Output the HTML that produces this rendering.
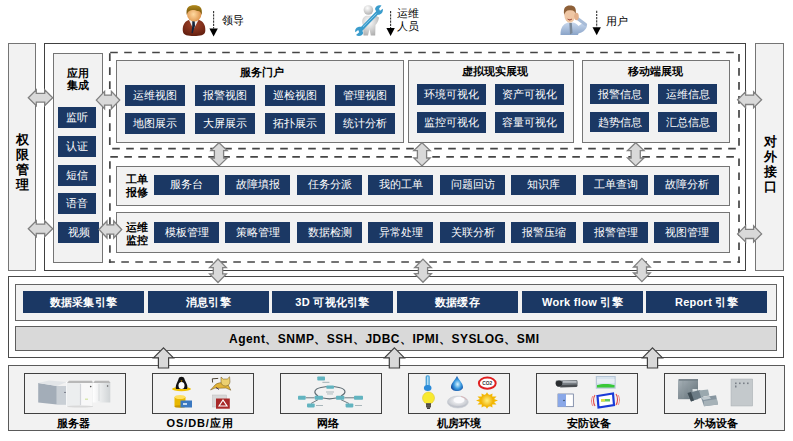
<!DOCTYPE html>
<html><head><meta charset="utf-8"><style>
html,body{margin:0;padding:0;background:#fff;width:793px;height:441px;overflow:hidden;position:relative;font-family:"Liberation Sans",sans-serif;}
.b{position:absolute;box-sizing:border-box;}
.btn{position:absolute;background:#1b3864;color:#fff;text-align:center;white-space:nowrap;}
.t{position:absolute;white-space:nowrap;line-height:1.15;}
svg{position:absolute;left:0;top:0;}
</style></head><body>
<div class="b" style="left:8px;top:43px;width:28px;height:228px;background:#f2f2f2;border:1px solid #757575;"></div>
<div class="b" style="left:44px;top:43px;width:702px;height:228px;background:#fff;border:1px solid #404040;"></div>
<div class="b" style="left:755px;top:43px;width:29px;height:228px;background:#f2f2f2;border:1px solid #757575;"></div>
<div class="t" style="left:16px;top:131.5px;font-size:13px;font-weight:bold;color:#000;line-height:15.1px;width:14px;">权<br>限<br>管<br>理</div>
<div class="t" style="left:764px;top:133.5px;font-size:13px;font-weight:bold;color:#000;line-height:15.1px;width:14px;">对<br>外<br>接<br>口</div>
<div class="b" style="left:53px;top:53px;width:50px;height:210px;background:#f2f2f2;border:1px solid #757575;"></div>
<div class="t" style="left:53px;top:66.5px;font-size:10.5px;font-weight:bold;color:#000;width:50px;text-align:center;line-height:12.8px;">应用<br>集成</div>
<div class="btn" style="left:58px;top:107px;width:38px;height:21px;line-height:21px;font-size:11px;font-weight:normal;">监听</div>
<div class="btn" style="left:58px;top:136px;width:38px;height:21px;line-height:21px;font-size:11px;font-weight:normal;">认证</div>
<div class="btn" style="left:58px;top:165px;width:38px;height:21px;line-height:21px;font-size:11px;font-weight:normal;">短信</div>
<div class="btn" style="left:58px;top:193px;width:38px;height:20.5px;line-height:20.5px;font-size:11px;font-weight:normal;">语音</div>
<div class="btn" style="left:58px;top:222px;width:41px;height:20.5px;line-height:20.5px;font-size:11px;font-weight:normal;">视频</div>
<div class="b" style="left:116px;top:60px;width:288px;height:83px;background:#f2f2f2;border:1px solid #757575;"></div>
<div class="t" style="left:162.2px;top:65.5px;font-size:10.5px;font-weight:bold;color:#000;width:200px;text-align:center;">服务门户</div>
<div class="btn" style="left:125px;top:85px;width:60px;height:21px;line-height:21px;font-size:11px;font-weight:normal;">运维视图</div>
<div class="btn" style="left:195px;top:85px;width:60px;height:21px;line-height:21px;font-size:11px;font-weight:normal;">报警视图</div>
<div class="btn" style="left:265px;top:85px;width:60px;height:21px;line-height:21px;font-size:11px;font-weight:normal;">巡检视图</div>
<div class="btn" style="left:335px;top:85px;width:60px;height:21px;line-height:21px;font-size:11px;font-weight:normal;">管理视图</div>
<div class="btn" style="left:125px;top:113px;width:60px;height:21px;line-height:21px;font-size:11px;font-weight:normal;">地图展示</div>
<div class="btn" style="left:195px;top:113px;width:60px;height:21px;line-height:21px;font-size:11px;font-weight:normal;">大屏展示</div>
<div class="btn" style="left:265px;top:113px;width:60px;height:21px;line-height:21px;font-size:11px;font-weight:normal;">拓扑展示</div>
<div class="btn" style="left:335px;top:113px;width:60px;height:21px;line-height:21px;font-size:11px;font-weight:normal;">统计分析</div>
<div class="b" style="left:408px;top:60px;width:166px;height:83px;background:#f2f2f2;border:1px solid #757575;"></div>
<div class="t" style="left:394.9px;top:65.3px;font-size:10.5px;font-weight:bold;color:#000;width:200px;text-align:center;">虚拟现实展现</div>
<div class="btn" style="left:417px;top:84px;width:69px;height:21px;line-height:21px;font-size:11px;font-weight:normal;">环境可视化</div>
<div class="btn" style="left:495px;top:84px;width:69px;height:21px;line-height:21px;font-size:11px;font-weight:normal;">资产可视化</div>
<div class="btn" style="left:417px;top:112px;width:69px;height:21px;line-height:21px;font-size:11px;font-weight:normal;">监控可视化</div>
<div class="btn" style="left:495px;top:112px;width:69px;height:21px;line-height:21px;font-size:11px;font-weight:normal;">容量可视化</div>
<div class="b" style="left:582px;top:60px;width:148px;height:83px;background:#f2f2f2;border:1px solid #757575;"></div>
<div class="t" style="left:555px;top:65.3px;font-size:10.5px;font-weight:bold;color:#000;width:200px;text-align:center;">移动端展现</div>
<div class="btn" style="left:590px;top:84px;width:59px;height:20px;line-height:20px;font-size:11px;font-weight:normal;">报警信息</div>
<div class="btn" style="left:658px;top:84px;width:59px;height:20px;line-height:20px;font-size:11px;font-weight:normal;">运维信息</div>
<div class="btn" style="left:590px;top:112px;width:59px;height:20px;line-height:20px;font-size:11px;font-weight:normal;">趋势信息</div>
<div class="btn" style="left:658px;top:112px;width:59px;height:20px;line-height:20px;font-size:11px;font-weight:normal;">汇总信息</div>
<div class="b" style="left:116px;top:166px;width:614px;height:40px;background:#f2f2f2;border:1px solid #757575;"></div>
<div class="t" style="left:125.5px;top:173px;font-size:11px;font-weight:bold;color:#000;line-height:13px;">工单<br>报修</div>
<div class="btn" style="left:154px;top:175px;width:65px;height:20px;line-height:20px;font-size:11px;font-weight:normal;line-height:18px;">服务台</div>
<div class="btn" style="left:225px;top:175px;width:65px;height:20px;line-height:20px;font-size:11px;font-weight:normal;line-height:18px;">故障填报</div>
<div class="btn" style="left:297px;top:175px;width:65px;height:20px;line-height:20px;font-size:11px;font-weight:normal;line-height:18px;">任务分派</div>
<div class="btn" style="left:368px;top:175px;width:65px;height:20px;line-height:20px;font-size:11px;font-weight:normal;line-height:18px;">我的工单</div>
<div class="btn" style="left:440px;top:175px;width:65px;height:20px;line-height:20px;font-size:11px;font-weight:normal;line-height:18px;">问题回访</div>
<div class="btn" style="left:511px;top:175px;width:65px;height:20px;line-height:20px;font-size:11px;font-weight:normal;line-height:18px;">知识库</div>
<div class="btn" style="left:583px;top:175px;width:65px;height:20px;line-height:20px;font-size:11px;font-weight:normal;line-height:18px;">工单查询</div>
<div class="btn" style="left:654px;top:175px;width:65px;height:20px;line-height:20px;font-size:11px;font-weight:normal;line-height:18px;">故障分析</div>
<div class="b" style="left:116px;top:212px;width:614px;height:41px;background:#f2f2f2;border:1px solid #757575;"></div>
<div class="t" style="left:126px;top:221px;font-size:11px;font-weight:bold;color:#000;line-height:13px;">运维<br>监控</div>
<div class="btn" style="left:154px;top:222px;width:65px;height:20.5px;line-height:20.5px;font-size:11px;font-weight:normal;line-height:20px;">模板管理</div>
<div class="btn" style="left:225px;top:222px;width:65px;height:20.5px;line-height:20.5px;font-size:11px;font-weight:normal;line-height:20px;">策略管理</div>
<div class="btn" style="left:297px;top:222px;width:65px;height:20.5px;line-height:20.5px;font-size:11px;font-weight:normal;line-height:20px;">数据检测</div>
<div class="btn" style="left:368px;top:222px;width:65px;height:20.5px;line-height:20.5px;font-size:11px;font-weight:normal;line-height:20px;">异常处理</div>
<div class="btn" style="left:440px;top:222px;width:65px;height:20.5px;line-height:20.5px;font-size:11px;font-weight:normal;line-height:20px;">关联分析</div>
<div class="btn" style="left:511px;top:222px;width:65px;height:20.5px;line-height:20.5px;font-size:11px;font-weight:normal;line-height:20px;">报警压缩</div>
<div class="btn" style="left:583px;top:222px;width:65px;height:20.5px;line-height:20.5px;font-size:11px;font-weight:normal;line-height:20px;">报警管理</div>
<div class="btn" style="left:654px;top:222px;width:65px;height:20.5px;line-height:20.5px;font-size:11px;font-weight:normal;line-height:20px;">视图管理</div>
<div class="b" style="left:8px;top:276px;width:776px;height:82px;background:#fff;border:1px solid #4a4a4a;"></div>
<div class="b" style="left:15px;top:284px;width:762px;height:37px;background:#f2f2f2;border:1px solid #646464;"></div>
<div class="btn" style="left:23px;top:291px;width:121px;height:22px;line-height:22px;font-size:11px;font-weight:bold;letter-spacing:0.3px;">数据采集引擎</div>
<div class="btn" style="left:148px;top:291px;width:121px;height:22px;line-height:22px;font-size:11px;font-weight:bold;letter-spacing:0.3px;">消息引擎</div>
<div class="btn" style="left:272px;top:291px;width:121px;height:22px;line-height:22px;font-size:11px;font-weight:bold;letter-spacing:0.3px;">3D 可视化引擎</div>
<div class="btn" style="left:397px;top:291px;width:121px;height:22px;line-height:22px;font-size:11px;font-weight:bold;letter-spacing:0.3px;">数据缓存</div>
<div class="btn" style="left:522px;top:291px;width:121px;height:22px;line-height:22px;font-size:11px;font-weight:bold;letter-spacing:0.3px;">Work flow 引擎</div>
<div class="btn" style="left:646px;top:291px;width:121px;height:22px;line-height:22px;font-size:11px;font-weight:bold;letter-spacing:0.3px;">Report 引擎</div>
<div class="b" style="left:15px;top:326px;width:762px;height:25px;background:#d9d9d9;border:1px solid #5e5e5e;"></div>
<div class="t" style="left:229px;top:333.3px;font-size:12px;font-weight:bold;color:#000;letter-spacing:0.47px;">Agent、SNMP、SSH、JDBC、IPMI、SYSLOG、SMI</div>
<div class="b" style="left:8px;top:365px;width:777px;height:66px;background:#f2f2f2;border:1px solid #5a5a5a;"></div>
<div class="b" style="left:24px;top:373px;width:102px;height:41px;background:#f2f2f2;border:1px solid #404040;"></div>
<div class="t" style="left:56.5px;top:417px;font-size:11px;font-weight:bold;color:#000;">服务器</div>
<div class="b" style="left:152px;top:373px;width:102px;height:41px;background:#f2f2f2;border:1px solid #404040;"></div>
<div class="t" style="left:166.5px;top:417px;font-size:11px;font-weight:bold;color:#000;letter-spacing:0.9px;">OS/DB/应用</div>
<div class="b" style="left:280px;top:373px;width:102px;height:41px;background:#f2f2f2;border:1px solid #404040;"></div>
<div class="t" style="left:317px;top:417px;font-size:11px;font-weight:bold;color:#000;">网络</div>
<div class="b" style="left:408px;top:373px;width:102px;height:41px;background:#f2f2f2;border:1px solid #404040;"></div>
<div class="t" style="left:436.5px;top:417px;font-size:11px;font-weight:bold;color:#000;">机房环境</div>
<div class="b" style="left:536px;top:373px;width:102px;height:41px;background:#f2f2f2;border:1px solid #404040;"></div>
<div class="t" style="left:567px;top:417px;font-size:11px;font-weight:bold;color:#000;">安防设备</div>
<div class="b" style="left:664px;top:373px;width:102px;height:41px;background:#f2f2f2;border:1px solid #404040;"></div>
<div class="t" style="left:694px;top:417px;font-size:11px;font-weight:bold;color:#000;">外场设备</div>
<div class="t" style="left:222px;top:14px;font-size:11px;font-weight:normal;color:#000;">领导</div>
<div class="t" style="left:397px;top:6.5px;font-size:11px;font-weight:normal;color:#000;line-height:13.3px;">运维<br>人员</div>
<div class="t" style="left:606px;top:15px;font-size:11px;font-weight:normal;color:#000;">用户</div>
<svg width="793" height="441" viewBox="0 0 793 441">
<line x1="108.8" y1="52.5" x2="740" y2="52.5" stroke="#454545" stroke-width="1.7" stroke-dasharray="7.6,6.4" stroke-dashoffset="12.60"/>
<line x1="109.8" y1="51.5" x2="109.8" y2="149.7" stroke="#454545" stroke-width="1.7" stroke-dasharray="7.6,6.4" stroke-dashoffset="12.20"/>
<line x1="108.8" y1="148.7" x2="740" y2="148.7" stroke="#454545" stroke-width="1.7" stroke-dasharray="7.6,6.4" stroke-dashoffset="10.60"/>
<line x1="739" y1="51.5" x2="739" y2="149.7" stroke="#454545" stroke-width="1.7" stroke-dasharray="7.6,6.4" stroke-dashoffset="11.40"/>
<line x1="108.9" y1="156.8" x2="740" y2="156.8" stroke="#454545" stroke-width="1.7" stroke-dasharray="7.6,6.4" stroke-dashoffset="12.60"/>
<line x1="109.9" y1="155.8" x2="109.9" y2="263" stroke="#454545" stroke-width="1.7" stroke-dasharray="7.6,6.4" stroke-dashoffset="8.60"/>
<line x1="108.9" y1="262" x2="740" y2="262" stroke="#454545" stroke-width="1.7" stroke-dasharray="7.6,6.4" stroke-dashoffset="1.60"/>
<line x1="739" y1="155.8" x2="739" y2="263" stroke="#454545" stroke-width="1.7" stroke-dasharray="7.6,6.4" stroke-dashoffset="11.40"/>
<polygon points="28.3,97.8 36.3,89.8 36.3,93.4 44.7,93.4 44.7,89.8 52.7,97.8 44.7,105.8 44.7,102.2 36.3,102.2 36.3,105.8" fill="#d9d9d9" stroke="#808080" stroke-width="1.3"/>
<polygon points="96.3,100.1 104.6,91.3 104.6,95.1 111.4,95.1 111.4,91.3 119.7,100.1 111.4,108.8 111.4,105.1 104.6,105.1 104.6,108.8" fill="#d9d9d9" stroke="#808080" stroke-width="1.3"/>
<polygon points="28.3,228.8 36.3,220.8 36.3,224.1 44.7,224.1 44.7,220.8 52.7,228.8 44.7,236.8 44.7,233.5 36.3,233.5 36.3,236.8" fill="#d9d9d9" stroke="#808080" stroke-width="1.3"/>
<polygon points="99.0,229.5 107.0,221.0 107.0,224.8 113.7,224.8 113.7,221.0 121.7,229.5 113.7,238.0 113.7,234.2 107.0,234.2 107.0,238.0" fill="#d9d9d9" stroke="#808080" stroke-width="1.3"/>
<polygon points="737.6,99.8 745.6,91.8 745.6,95.1 753.6,95.1 753.6,91.8 761.6,99.8 753.6,107.8 753.6,104.5 745.6,104.5 745.6,107.8" fill="#d9d9d9" stroke="#808080" stroke-width="1.3"/>
<polygon points="737.6,233.9 745.6,225.9 745.6,229.3 753.6,229.3 753.6,225.9 761.6,233.9 753.6,241.9 753.6,238.5 745.6,238.5 745.6,241.9" fill="#d9d9d9" stroke="#808080" stroke-width="1.3"/>
<polygon points="219.0,142.7 227.2,150.6 223.6,150.6 223.6,158.0 227.2,158.0 219.0,165.9 210.8,158.0 214.4,158.0 214.4,150.6 210.8,150.6" fill="#d9d9d9" stroke="#808080" stroke-width="1.3"/>
<polygon points="422.0,142.7 430.2,150.6 426.6,150.6 426.6,158.0 430.2,158.0 422.0,165.9 413.8,158.0 417.4,158.0 417.4,150.6 413.8,150.6" fill="#d9d9d9" stroke="#808080" stroke-width="1.3"/>
<polygon points="635.7,142.7 644.0,150.6 640.3,150.6 640.3,158.0 644.0,158.0 635.7,165.9 627.5,158.0 631.1,158.0 631.1,150.6 627.5,150.6" fill="#d9d9d9" stroke="#808080" stroke-width="1.3"/>
<polygon points="218.0,259.0 226.4,267.6 222.7,267.6 222.7,273.9 226.4,273.9 218.0,282.5 209.6,273.9 213.3,273.9 213.3,267.6 209.6,267.6" fill="#d9d9d9" stroke="#808080" stroke-width="1.3"/>
<polygon points="423.0,259.1 431.4,267.7 427.6,267.7 427.6,273.7 431.4,273.7 423.0,282.3 414.6,273.7 418.4,273.7 418.4,267.7 414.6,267.7" fill="#d9d9d9" stroke="#808080" stroke-width="1.3"/>
<polygon points="641.9,258.4 650.3,267.0 646.5,267.0 646.5,273.0 650.3,273.0 641.9,281.6 633.5,273.0 637.2,273.0 637.2,267.0 633.5,267.0" fill="#d9d9d9" stroke="#808080" stroke-width="1.3"/>
<polygon points="163.5,347.8 173.5,357.8 168.6,357.8 168.6,368.0 158.4,368.0 158.4,357.8 153.5,357.8" fill="#d9d9d9" stroke="#404040" stroke-width="1.2"/>
<polygon points="394.4,347.8 404.4,357.8 399.5,357.8 399.5,368.0 389.3,368.0 389.3,357.8 384.4,357.8" fill="#d9d9d9" stroke="#404040" stroke-width="1.2"/>
<polygon points="652.5,347.8 662.5,357.8 657.6,357.8 657.6,368.0 647.4,368.0 647.4,357.8 642.5,357.8" fill="#d9d9d9" stroke="#404040" stroke-width="1.2"/>
<line x1="213.6" y1="11" x2="213.6" y2="28.6" stroke="#333" stroke-width="1.1" stroke-dasharray="2.2,1"/>
<polygon points="209.4,28.6 217.79999999999998,28.6 213.6,36.6" fill="#000"/>
<line x1="390.6" y1="11" x2="390.6" y2="28" stroke="#333" stroke-width="1.1" stroke-dasharray="2.2,1"/>
<polygon points="386.40000000000003,28 394.8,28 390.6,36" fill="#000"/>
<line x1="596.7" y1="10.7" x2="596.7" y2="27.299999999999997" stroke="#333" stroke-width="1.1" stroke-dasharray="2.2,1"/>
<polygon points="592.5,27.299999999999997 600.9000000000001,27.299999999999997 596.7,35.3" fill="#000"/>

<defs>
 <radialGradient id="gHead" cx="0.45" cy="0.55" r="0.6"><stop offset="0" stop-color="#ffd9a0"/><stop offset="1" stop-color="#d98a40"/></radialGradient>
 <linearGradient id="gHair" x1="0" y1="0" x2="0" y2="1"><stop offset="0" stop-color="#b08a1c"/><stop offset="1" stop-color="#6a4a08"/></linearGradient>
 <radialGradient id="gSuit" cx="0.5" cy="0.3" r="0.8"><stop offset="0" stop-color="#a6452a"/><stop offset="1" stop-color="#5a1a0c"/></radialGradient>
 <radialGradient id="gWhite" cx="0.4" cy="0.3" r="0.8"><stop offset="0" stop-color="#ffffff"/><stop offset="1" stop-color="#a8a8a8"/></radialGradient>
 <linearGradient id="gBlueShirt" x1="0" y1="0" x2="0" y2="1"><stop offset="0" stop-color="#c8d8ee"/><stop offset="1" stop-color="#8aa4c8"/></linearGradient>
 <linearGradient id="gSrv" x1="0" y1="0" x2="1" y2="0"><stop offset="0" stop-color="#8e99a6"/><stop offset="1" stop-color="#c4ccd4"/></linearGradient>
 <linearGradient id="gTower" x1="0" y1="0" x2="1" y2="0"><stop offset="0" stop-color="#ffffff"/><stop offset="1" stop-color="#d0d4d6"/></linearGradient>
 <radialGradient id="gDrop" cx="0.55" cy="0.55" r="0.6"><stop offset="0" stop-color="#d8f4ff"/><stop offset="0.5" stop-color="#3a9ae0"/><stop offset="1" stop-color="#0a3a90"/></radialGradient>
 <radialGradient id="gSun" cx="0.5" cy="0.5" r="0.5"><stop offset="0" stop-color="#fff080"/><stop offset="1" stop-color="#f0b000"/></radialGradient>
 <radialGradient id="gDisc" cx="0.5" cy="0.4" r="0.6"><stop offset="0" stop-color="#ffffff"/><stop offset="1" stop-color="#b8bcc4"/></radialGradient>
 <linearGradient id="gMetal" x1="0" y1="0" x2="1" y2="1"><stop offset="0" stop-color="#a9b3b9"/><stop offset="1" stop-color="#5f6d75"/></linearGradient>
</defs>
<!-- leader -->
<g>
 <path d="M182.8,31 C182.3,24.5 185,21 190,19.5 L198,19.5 C203,21 205.8,24.5 205.3,31 C205,35.5 200,36 194,36 C188,36 183.2,35.5 182.8,31 Z" fill="url(#gSuit)"/>
 <polygon points="189,20 193.5,29.5 198.5,20" fill="#f0f0f0"/>
 <polygon points="192.3,21 194.7,21 195,26 192.5,33.5 191.5,33 192.2,26" fill="#15233a"/>
 <ellipse cx="194.2" cy="13.5" rx="7.3" ry="8" fill="url(#gHead)"/>
 <path d="M186.8,15 C185.5,7.5 189,5.3 194.2,5.3 C199.5,5.3 203,7.5 201.6,15 C201,12 199.5,10.5 197,11 C195,9.5 191,9.8 189.5,11 C188,11.5 187.2,13 186.8,15 Z" fill="url(#gHair)"/>
</g>
<!-- ops person with wrench -->
<g>
 <path d="M363.5,35.5 L363,25 C361.5,22 362,17.5 366,15.8 L371,15.8 C373.5,16.5 375,18 376.5,16 L379,17.5 C378.5,21 377,23.5 375.5,25 L375.2,35.5 L370.8,35.5 L369.5,29 L368,35.5 Z" fill="url(#gWhite)"/>
 <circle cx="368.4" cy="10" r="4.8" fill="url(#gWhite)"/>
 <path d="M360.8,29.8 L377.5,12.5" stroke="#3a9ccc" stroke-width="3.6" stroke-linecap="round"/>
 <path d="M375,9 C375.5,5.5 378.8,4.5 381.5,5.5 L379,8.8 L380,10.8 L382.8,8.8 C383.5,12.3 381,15 377.8,14.8 Z" fill="#3a9ccc"/>
 <path d="M363.2,33 C362.5,36 358.5,37 356,35 L359.2,32.2 L358.2,30 L355.3,32.2 C354.5,28.5 357.5,26.3 361,26.8 Z" fill="#3a9ccc"/>
 <path d="M363,26.8 L376.5,13.5" stroke="#9fd4ee" stroke-width="0.8"/>
</g>
<!-- user -->
<g>
 <path d="M560.5,35 C560.5,27.5 563,24 568,22.5 L573,22.5 C576,23 577.5,24.5 578.5,26 L582,23.5 C584,22.5 587,23 587,26 C586,30 582.5,32.5 578.5,33.5 L578,35 Z" fill="url(#gBlueShirt)"/>
 <path d="M577.5,18.5 L585.5,24.5" stroke="#a8bcd8" stroke-width="3.2" stroke-linecap="round"/>
 <polygon points="569.3,23 571.8,23 572.5,33 570,34.5" fill="#7a8898"/>
 <ellipse cx="569.8" cy="15.2" rx="5.4" ry="7.6" fill="#efc6a4"/>
 <path d="M564.2,15 C563,8 565.5,5.6 570,5.6 C574.5,5.6 576.8,8 575.6,14.5 C575,11.5 573.5,10 570,10.3 C567,10 565,11.5 564.2,15 Z" fill="#8e6038"/>
 <ellipse cx="576.5" cy="16.5" rx="2.3" ry="3.8" fill="#e2b08c"/>
 <path d="M567.6,19 Q569.8,21.3 572,19" stroke="#9a4a3a" stroke-width="0.9" fill="#c87868"/>
</g>
<!-- server -->
<g>
 <polygon points="38.2,383 56.8,386 56.8,404.5 38.2,402.5" fill="#a3adb8"/>
 <polygon points="38.2,383 49,380.5 67,382 56.8,386" fill="#e2e5e8"/>
 <rect x="56.8" y="386" width="9.5" height="18.8" fill="#c9cfd5"/>
 <circle cx="65" cy="392.4" r="0.7" fill="#556"/>
 <rect x="66" y="382" width="27" height="24.5" fill="url(#gTower)"/>
 <polygon points="67,383 69,380.8 92,380.8 93,383" fill="#b8b8b8"/>
 <rect x="66.5" y="383" width="13" height="23" fill="#eceeef"/>
 <rect x="80.6" y="383" width="12.2" height="23" fill="#f8f8f8"/>
 <line x1="80.6" y1="384" x2="80.6" y2="405" stroke="#c8cccf" stroke-width="0.8"/>
 <circle cx="90.7" cy="386.6" r="0.8" fill="#555"/>
 <rect x="85" y="398.5" width="3" height="1.5" fill="#d8e8b0"/>
 <rect x="92.8" y="382" width="17.5" height="20.5" fill="url(#gTower)"/>
 <polygon points="93,383 95,380.8 109,380.8 110.3,383" fill="#b8b8b8"/>
 <line x1="99" y1="384" x2="99" y2="401" stroke="#d0d4d6" stroke-width="0.8"/>
 <circle cx="107.6" cy="386" r="0.8" fill="#555"/>
 <ellipse cx="80" cy="406.5" rx="13" ry="1" fill="#d8d8d8"/>
</g>

<!-- OS/DB/app -->
<g>
 <ellipse cx="181.5" cy="389" rx="9.5" ry="2.2" fill="#f0c000"/>
 <path d="M176,389 C175,385 178,381.5 178.5,379 C179,376 184,376 184.5,379 C185,381.5 188.5,385 187,389 Z" fill="#111"/>
 <ellipse cx="181.5" cy="385.5" rx="3" ry="3.5" fill="#fff"/>
 <polygon points="180.5,380.5 182.5,380.5 181.5,382" fill="#f0b000"/>
 <!-- tomcat -->
 <path d="M210.5,390 L215,385 C217,383 221,382.2 224.5,382.8 L228,384.5 L230.8,390.2 L226,388 L219,388.2 L215,388 Z" fill="#e2b43a" stroke="#6a5018" stroke-width="0.5"/>
 <path d="M221,377 L223.2,379 L227.3,379 L229.6,376.8 L230,382 C229.6,385 227.5,386 225.4,386 C223,386 221.2,384.5 221,382 Z" fill="#ecd070" stroke="#6a5018" stroke-width="0.5"/>
 <path d="M212.6,382.5 L212.3,378.8 L218.2,378.4" stroke="#3a3020" stroke-width="0.9" fill="none"/>
 <line x1="216" y1="387.5" x2="219" y2="389.5" stroke="#3a2a50" stroke-width="0.9"/>
 <!-- db -->
 <rect x="174.5" y="397" width="11" height="9.5" fill="#e8b800"/>
 <ellipse cx="180" cy="397" rx="5.5" ry="2" fill="#ffe060"/>
 <ellipse cx="180" cy="406.5" rx="5.5" ry="1.2" fill="#c89800"/>
 <rect x="180.5" y="400.5" width="11.5" height="7" fill="#3a78c0"/>
 <rect x="183" y="403" width="4" height="2" fill="#c8dcf0"/>
 <!-- app -->
 <rect x="212.5" y="395" width="14" height="12" fill="#d8d8d8" stroke="#bbb" stroke-width="0.5"/>
 <rect x="216" y="398.5" width="13.8" height="10.2" fill="#a82828"/>
 <path d="M219,406 L223,400 L227,406 Z" fill="none" stroke="#fff" stroke-width="1.2"/>
</g>

<!-- network -->
<g stroke="#5f6d74" stroke-width="0.9" fill="none">
 <path d="M318,396 C313,393 314,389 321,387.5 L327,386.5 M333.5,386.5 L339,387.5 C346,389 347,393 341,396" stroke-width="1.2"/>
 <path d="M323,398 C327,399 332,399 336,398" stroke-width="1.2"/>
 <line x1="305.7" y1="397.8" x2="314.7" y2="397.8"/>
 <line x1="344.3" y1="397.8" x2="354" y2="397.8"/>
 <line x1="318" y1="399.7" x2="311" y2="403.5"/>
 <line x1="341" y1="399.7" x2="349" y2="403.5"/>
</g>
<g fill="#62b4c0">
 <rect x="317.3" y="376.5" width="7.7" height="4" rx="0.8"/>
 <rect x="326.3" y="385.5" width="7.7" height="3.3" rx="0.8"/>
 <rect x="298" y="395.8" width="7.7" height="3.9" rx="0.8"/>
 <rect x="314.7" y="395.8" width="8.3" height="3.9" rx="0.8"/>
 <rect x="336" y="395.8" width="8.3" height="3.9" rx="0.8"/>
 <rect x="354" y="395.8" width="9" height="3.9" rx="0.8"/>
 <rect x="307" y="403.5" width="7.7" height="3.9" rx="0.8"/>
 <rect x="345.6" y="403.5" width="7.7" height="3.9" rx="0.8"/>
</g>
<g fill="#a9b6ba">
 <rect x="322.4" y="381.8" width="7" height="1.1"/>
 <rect x="326" y="391.5" width="8" height="1"/>
 <rect x="327" y="393.5" width="6" height="0.9"/>
 <rect x="316" y="405" width="7" height="1"/>
 <rect x="355" y="405" width="7" height="1"/>
</g>

<!-- machine room -->
<g>
 <rect x="425.6" y="375.3" width="4.2" height="12" rx="1.6" fill="#4aa2d8"/>
 <rect x="427.2" y="376.5" width="1.2" height="9" fill="#c8ecff"/>
 <ellipse cx="427.7" cy="388" rx="3.8" ry="3" fill="#2a8ad8"/>
 <path d="M457,376 C459,380 463,383.5 463,387 C463,389.5 460,391 457,391 C454,391 451,389.5 451,387 C451,383.5 455,380 457,376 Z" fill="url(#gDrop)"/>
 <ellipse cx="487.3" cy="383.2" rx="8.4" ry="5.6" fill="#fff" stroke="#e02020" stroke-width="2"/>
 <text x="487.3" y="385" font-size="4.8" font-weight="bold" text-anchor="middle" fill="#333" font-family="Liberation Sans, sans-serif">CO2</text>
 <circle cx="428.5" cy="398" r="6" fill="#f8ea30" stroke="#d8c020" stroke-width="0.5"/>
 <rect x="426" y="403" width="5" height="4.5" fill="#6a6458"/>
 <line x1="426" y1="404.6" x2="431" y2="404.6" stroke="#3a3630" stroke-width="0.6"/>
 <line x1="426" y1="406.2" x2="431" y2="406.2" stroke="#3a3630" stroke-width="0.6"/>
 <rect x="427" y="407.5" width="3" height="1.3" fill="#111"/>
 <ellipse cx="457.8" cy="402" rx="10.5" ry="6" fill="url(#gDisc)" stroke="#c8ccd4" stroke-width="0.6"/>
 <path d="M448.5,403.5 C451,407 463,408 466.5,404" stroke="#b8bcc6" stroke-width="0.6" fill="none"/>
 <ellipse cx="459" cy="400" rx="5.5" ry="3.2" fill="#fafafc"/>
 <path d="M461,396.5 C464,397 466,398.5 466.5,400" stroke="#e0a0a0" stroke-width="0.6" fill="none"/>
 <polygon points="498.0,400.5 494.1,401.9 496.5,404.6 492.2,404.4 492.5,407.6 488.9,405.8 487.0,408.7 485.1,405.8 481.5,407.6 481.8,404.4 477.5,404.6 479.9,401.9 476.0,400.5 479.9,399.1 477.5,396.4 481.8,396.6 481.5,393.4 485.1,395.2 487.0,392.3 488.9,395.2 492.5,393.4 492.2,396.6 496.5,396.4 494.1,399.1" fill="#f4b800"/>
 <circle cx="487" cy="400.5" r="6.3" fill="url(#gSun)"/>
</g>

<!-- security -->
<g>
 <path d="M556,380.5 C555,383 556,386.5 559,387 L577,386 C578,384.5 578,381.5 577,380 Z" fill="#7a8086"/>
 <path d="M562,385 L577,384.5 C577.8,385.5 577.5,386.5 576.5,387 L560,387.5 Z" fill="#4a4e52"/>
 <ellipse cx="559" cy="383.5" rx="3.3" ry="3.1" fill="#2a2d30"/>
 <rect x="563" y="381" width="13.5" height="1.8" fill="#b8bdc2"/>
 <rect x="595.8" y="376" width="19.9" height="12.7" fill="#b8c8d8"/>
 <rect x="597" y="377" width="17.5" height="8" fill="#d8e4ee"/>
 <path d="M597,387.5 L597,385 C601,383.5 610,383.5 614.5,385 L614.5,387.5 Z" fill="#38c838"/>
 <rect x="597" y="379" width="17.5" height="4" fill="#e8eef4"/>
 <rect x="558" y="394" width="15.3" height="12.7" fill="#fff" stroke="#5a6a90" stroke-width="0.7"/>
 <polygon points="558,394 566,394 566,406.7 558,406.7" fill="#8aa8e8"/>
 <circle cx="564" cy="400.5" r="0.8" fill="#345"/>
 <polygon points="597.5,396 613,393.5 614,405 598.5,407.5" fill="#fff" stroke="#1a3ad8" stroke-width="2.2"/>
 <rect x="601" y="399" width="9" height="2.5" fill="#60c860"/>
 <rect x="601" y="399" width="4" height="2.5" fill="#e0e040"/>
 <path d="M595,395 C593,398 593,403 595,406" stroke="#e04848" stroke-width="1.1" fill="none"/>
 <path d="M593,396 C591,399 591,403 593,406" stroke="#f08080" stroke-width="1" fill="none"/>
 <path d="M616,394 C618,397 618,402 616,405" stroke="#e04848" stroke-width="1.1" fill="none"/>
 <path d="M618,395 C620,398 620,402 618,405" stroke="#f08080" stroke-width="1" fill="none"/>
</g>

<!-- field equipment -->
<g>
 <rect x="678" y="379.2" width="20" height="20" fill="url(#gMetal)"/>
 <rect x="679" y="379.2" width="19" height="1.5" fill="#707c84"/>
 <line x1="683" y1="381" x2="683" y2="398" stroke="#8f9aa0" stroke-width="0.6"/>
 <line x1="689" y1="381" x2="689" y2="398" stroke="#8f9aa0" stroke-width="0.6"/>
 <rect x="692.5" y="389" width="5" height="4" fill="#d8dfe2"/>
 <polygon points="687.5,393 700,390 703.3,397 691,401.5" fill="#6c7c86"/>
 <polygon points="687.5,393 691,392 694,400.5 691,401.5" fill="#3f4c54"/>
 <polygon points="699,390.5 708,389.5 709.4,395.5 701,397" fill="#9aa8ae"/>
 <polygon points="701,397.5 716,395.3 718,404.5 704,406.2" fill="#8796a0"/>
 <polygon points="701,397.5 709,396.2 711,398.5 703.5,400" fill="#c0cacf"/>
 <polygon points="704,401 717,399 718,404.5 704,406.2" fill="#a6b2b8"/>
</g>
<g>
 <rect x="731" y="379" width="21.7" height="27" fill="#c4c9cc" stroke="#a8aeb2" stroke-width="0.5"/>
 <g fill="#7a8088"><rect x="735" y="382.5" width="1.6" height="1.6"/><rect x="739" y="382.5" width="1.6" height="1.6"/><rect x="743" y="382.5" width="1.6" height="1.6"/><rect x="747" y="382.5" width="1.6" height="1.6"/><rect x="735" y="385.5" width="1.5" height="2"/></g>
</g>

</svg>
</body></html>
